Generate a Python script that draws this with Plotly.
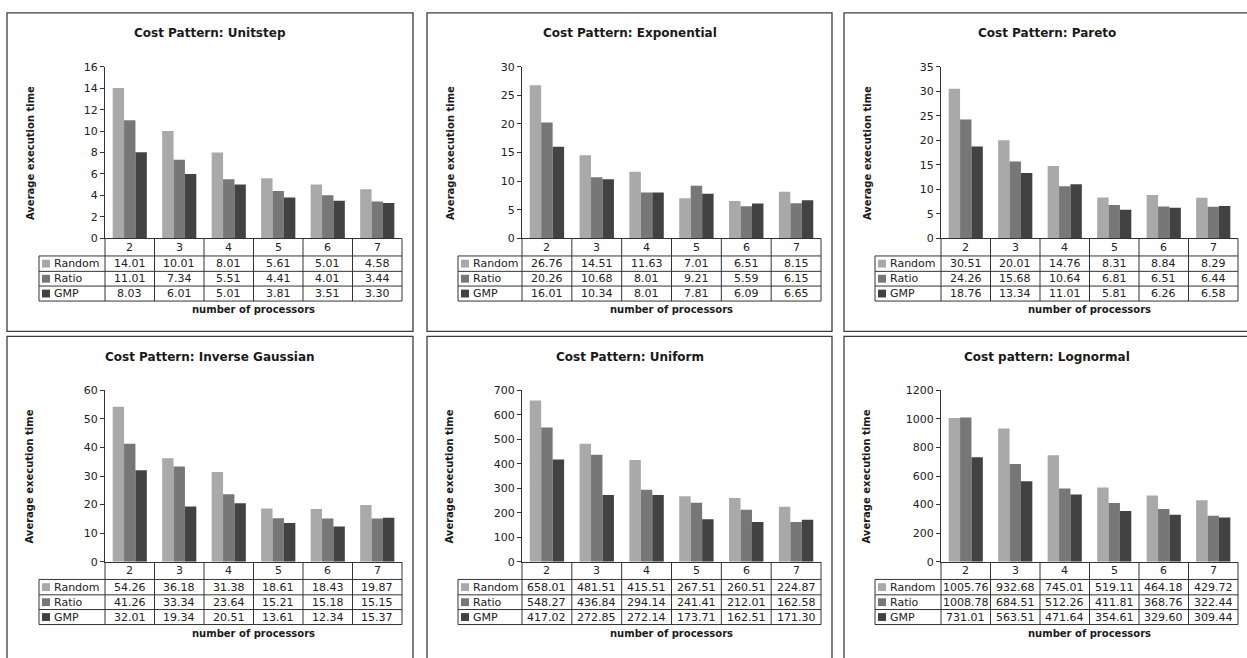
import plotly.graph_objects as go

# ---------------------------------------------------------------- data
categories = ["2", "3", "4", "5", "6", "7"]
series_names = ["Random", "Ratio", "GMP"]

panel_titles = [
    "Cost Pattern: Unitstep",
    "Cost Pattern: Exponential",
    "Cost Pattern: Pareto",
    "Cost Pattern: Inverse Gaussian",
    "Cost Pattern: Uniform",
    "Cost pattern: Lognormal",
]

unitstep_random = [14.01, 10.01, 8.01, 5.61, 5.01, 4.58]
unitstep_ratio = [11.01, 7.34, 5.51, 4.41, 4.01, 3.44]
unitstep_gmp = [8.03, 6.01, 5.01, 3.81, 3.51, 3.30]

exponential_random = [26.76, 14.51, 11.63, 7.01, 6.51, 8.15]
exponential_ratio = [20.26, 10.68, 8.01, 9.21, 5.59, 6.15]
exponential_gmp = [16.01, 10.34, 8.01, 7.81, 6.09, 6.65]

pareto_random = [30.51, 20.01, 14.76, 8.31, 8.84, 8.29]
pareto_ratio = [24.26, 15.68, 10.64, 6.81, 6.51, 6.44]
pareto_gmp = [18.76, 13.34, 11.01, 5.81, 6.26, 6.58]

invgauss_random = [54.26, 36.18, 31.38, 18.61, 18.43, 19.87]
invgauss_ratio = [41.26, 33.34, 23.64, 15.21, 15.18, 15.15]
invgauss_gmp = [32.01, 19.34, 20.51, 13.61, 12.34, 15.37]

uniform_random = [658.01, 481.51, 415.51, 267.51, 260.51, 224.87]
uniform_ratio = [548.27, 436.84, 294.14, 241.41, 212.01, 162.58]
uniform_gmp = [417.02, 272.85, 272.14, 173.71, 162.51, 171.30]

lognormal_random = [1005.76, 932.68, 745.01, 519.11, 464.18, 429.72]
lognormal_ratio = [1008.78, 684.51, 512.26, 411.81, 368.76, 322.44]
lognormal_gmp = [731.01, 563.51, 471.64, 354.61, 329.60, 309.44]

panel_series = [
    (unitstep_random, unitstep_ratio, unitstep_gmp),
    (exponential_random, exponential_ratio, exponential_gmp),
    (pareto_random, pareto_ratio, pareto_gmp),
    (invgauss_random, invgauss_ratio, invgauss_gmp),
    (uniform_random, uniform_ratio, uniform_gmp),
    (lognormal_random, lognormal_ratio, lognormal_gmp),
]

y_max = [16, 30, 35, 60, 700, 1200]
y_step = [2, 5, 5, 10, 100, 200]

# ---------------------------------------------------------------- layout geometry (pixels)
W, H = 1247, 658
FONT = "DejaVu Sans"
series_colors = ["#a9a9a9", "#777777", "#424242"]
LINE = "#333333"
TEXT = "#222222"

panel_origin = [(7, 7), (427, 7), (844, 7), (7, 337), (427, 337), (844, 337)]
panel_size = [(406, 325), (405, 325), (410, 325), (406, 330), (405, 330), (410, 330)]
axis_left = [98, 95, 97, 98, 95, 97]   # y-axis line, relative to panel left
table_left = [32, 31, 31, 32, 31, 31]
plot_right = [395, 394, 394, 395, 394, 394]

TITLE_Y = 21
PLOT_TOP = 55
PLOT_BOTTOM = 230
ROW_EDGES = [230.3, 248, 263.7, 278.7, 294]
XTITLE_Y = 303
YTITLE_X = 23
YTITLE_Y = 143


def px(x):
    return x / W


def py(y):
    return 1 - y / H


def label(x, y, text, xref="paper", size=11, bold=False, **kw):
    font = dict(family=FONT, size=size, color="#1a1a1a" if bold else TEXT)
    if bold:
        font["weight"] = "bold"
    d = dict(x=x, y=y, xref=xref, yref="paper", text=text, showarrow=False,
             xanchor="center", yanchor="middle", font=font)
    d.update(kw)
    return d


fig = go.Figure()
shapes = []
annotations = []
layout_axes = {}

for i, (ox, oy) in enumerate(panel_origin):
    n = i + 1
    xa = "x" if n == 1 else f"x{n}"
    ya = "y" if n == 1 else f"y{n}"
    xkey = "xaxis" if n == 1 else f"xaxis{n}"
    ykey = "yaxis" if n == 1 else f"yaxis{n}"

    x0 = ox + axis_left[i]
    x1 = ox + plot_right[i]
    tl = ox + table_left[i]
    y_top = oy + PLOT_TOP
    y_bot = oy + PLOT_BOTTOM

    for s, (name, values) in enumerate(zip(series_names, panel_series[i])):
        fig.add_trace(go.Bar(
            x=categories, y=values, name=name,
            marker=dict(color=series_colors[s], line=dict(width=0)),
            xaxis=xa, yaxis=ya, showlegend=False,
        ))

    layout_axes[xkey] = dict(
        domain=[px(x0), px(x1)], anchor=ya, type="category",
        range=[-0.5, len(categories) - 0.5], showticklabels=False,
        showline=True, linecolor=LINE, linewidth=1.2, ticks="",
        showgrid=False, zeroline=False, fixedrange=True,
    )
    layout_axes[ykey] = dict(
        domain=[py(y_bot), py(y_top)], anchor=xa,
        range=[0, y_max[i]], dtick=y_step[i], tick0=0,
        showline=True, linecolor=LINE, linewidth=1.2,
        ticks="outside", ticklen=4, tickcolor=LINE, tickwidth=1,
        showgrid=False, zeroline=False, fixedrange=True,
        tickfont=dict(family=FONT, size=11, color=TEXT),
    )

    # panel frame
    pw, ph = panel_size[i]
    shapes.append(dict(type="rect", xref="paper", yref="paper",
                       x0=px(ox), x1=px(ox + pw), y0=py(oy + ph), y1=py(oy),
                       line=dict(color="#3c3c3c", width=1.3), fillcolor="rgba(0,0,0,0)"))

    # data table grid
    r0, r1, r2, r3, r4 = [oy + r for r in ROW_EDGES]
    for yy in (r1, r2, r3, r4):
        shapes.append(dict(type="line", xref="paper", yref="paper",
                           x0=px(tl), x1=px(x1), y0=py(yy), y1=py(yy),
                           line=dict(color=LINE, width=1)))
    shapes.append(dict(type="line", xref="paper", yref="paper",
                       x0=px(tl), x1=px(tl), y0=py(r1), y1=py(r4),
                       line=dict(color=LINE, width=1)))
    ncat = len(categories)
    col_w = (x1 - x0) / ncat
    for k in range(ncat + 1):
        xx = x0 + k * col_w
        shapes.append(dict(type="line", xref="paper", yref="paper",
                           x0=px(xx), x1=px(xx), y0=py(r0), y1=py(r4),
                           line=dict(color=LINE, width=1)))

    # category header row (category index positions on the x axis)
    for k, c in enumerate(categories):
        annotations.append(label(k, py((r0 + r1) / 2), c, xref=xa))

    # series rows: swatch, name and values
    row_mid = [(r1 + r2) / 2, (r2 + r3) / 2, (r3 + r4) / 2]
    for s, (name, values) in enumerate(zip(series_names, panel_series[i])):
        ym = row_mid[s]
        shapes.append(dict(type="rect", xref="paper", yref="paper",
                           x0=px(tl + 3), x1=px(tl + 11), y0=py(ym + 4), y1=py(ym - 4),
                           line=dict(width=0), fillcolor=series_colors[s]))
        annotations.append(label(px(tl + 13), py(ym), name, xanchor="left"))
        for k, v in enumerate(values):
            annotations.append(label(k, py(ym), f"{v:.2f}", xref=xa))

    # titles
    annotations.append(label(px(ox + 203), py(oy + TITLE_Y), panel_titles[i], size=12, bold=True))
    annotations.append(label(px((x0 + x1) / 2), py(oy + XTITLE_Y), "number of processors",
                             size=10, bold=True))
    annotations.append(label(px(ox + YTITLE_X), py(oy + YTITLE_Y), "Average execution time",
                             size=10, bold=True, textangle=-90))

fig.update_layout(
    width=W, height=H,
    margin=dict(l=0, r=0, t=0, b=0),
    paper_bgcolor="white", plot_bgcolor="white",
    barmode="group", bargap=0.31, bargroupgap=0,
    showlegend=False,
    shapes=shapes, annotations=annotations,
    **layout_axes,
)

# page without the default body margin so the figure fills the window exactly
fig.write_html(
    "out.html",
    config={"displayModeBar": False, "responsive": False},
    post_script="document.body.style.margin='0';document.body.style.overflow='hidden';",
)
